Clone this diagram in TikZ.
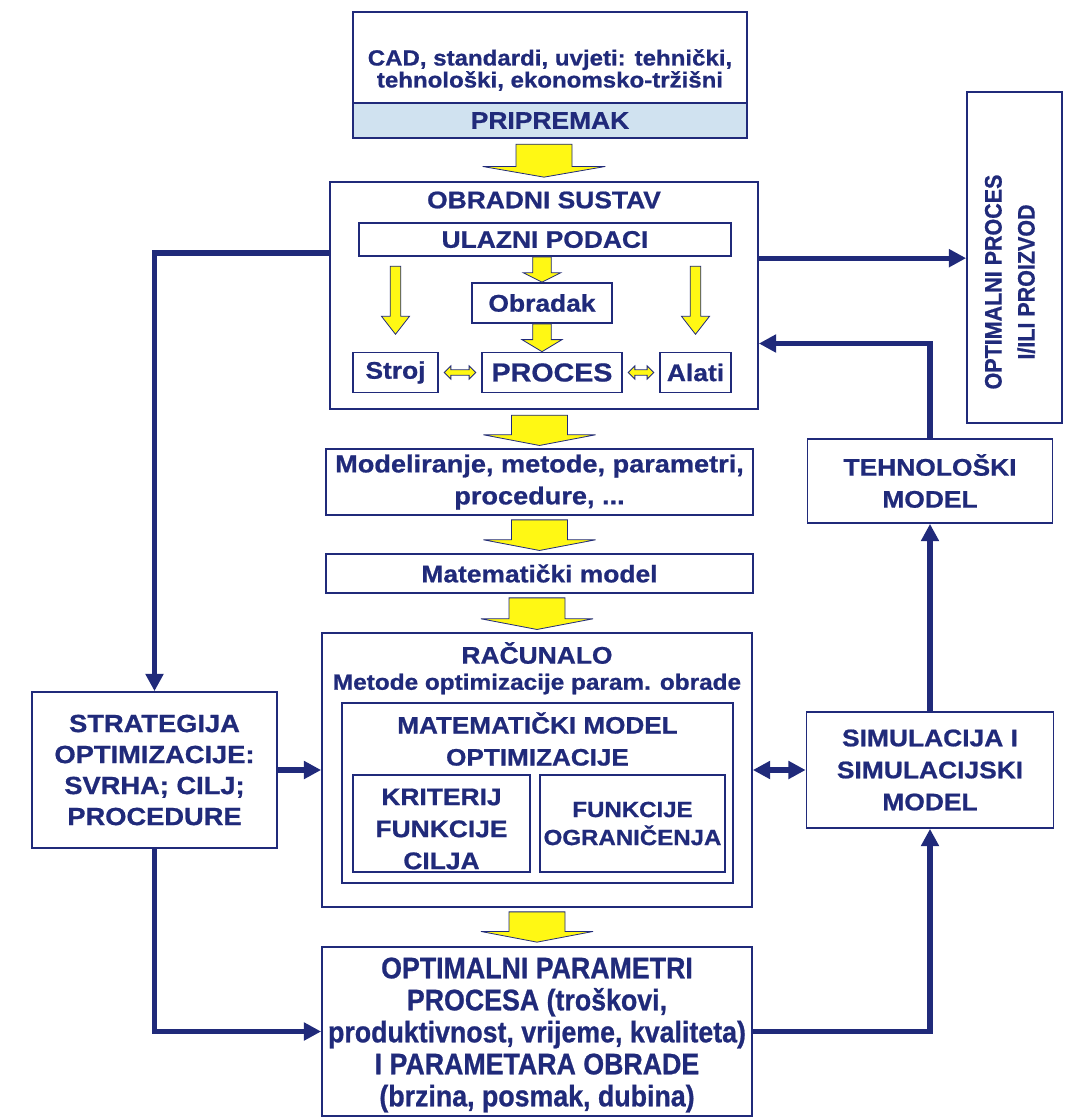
\documentclass[tikz,border=0pt]{standalone}
\usepackage{fontspec}
\usepackage{tikz}
\usetikzlibrary{arrows.meta,calc}
\setmainfont{Liberation Sans}[FakeStretch=1.1, FakeBold=0.8]
\newfontfamily\narrowfont{Liberation Sans}[FakeStretch=0.9, FakeBold=0.8]
\definecolor{navy}{RGB}{32,42,122}
\definecolor{bandblue}{RGB}{208,226,240}
\definecolor{arrowyellow}{RGB}{255,248,20}
\newcommand{\boxfont}[2]{\fontsize{#1}{#2}\selectfont}
\tikzset{
    flow-box/.style = {draw=navy, fill=white, line width=1.3pt, rectangle, inner sep=0pt, align=center, text=navy, font=\bfseries\boxfont{18}{24}},
    flow-title/.style = {inner sep=0pt, align=center, text=navy, font=\bfseries\boxfont{18}{24}},
    yellow-arrow/.style = {fill=arrowyellow, draw=navy, line width=0.6pt},
    link-line/.style = {draw=navy, line width=4pt, -{Triangle[length=13pt,width=13pt]}},
}
\newcommand{\blockarrow}[5]{%
    \filldraw[yellow-arrow] let \p1 = (#1), \p2 = (#2) in
        (\x2-#3, \y1) -- (\x2+#3, \y1) -- (\x2+#3, \y2+#5) -- (\x2+#4, \y2+#5)
        -- (\x2, \y2) -- (\x2-#4, \y2+#5) -- (\x2-#3, \y2+#5) -- cycle;
}
\newcommand{\swaparrow}[2]{%
    \filldraw[yellow-arrow] let \p1 = (#1), \p2 = (#2) in
        (\x1+4pt, \y1) -- (\x1+9pt, \y1+5pt) -- (\x1+9pt, \y1+2pt) -- (\x2-9pt, \y1+2pt) -- (\x2-9pt, \y1+5pt)
        -- (\x2-4pt, \y1) -- (\x2-9pt, \y1-5pt) -- (\x2-9pt, \y1-2pt) -- (\x1+9pt, \y1-2pt) -- (\x1+9pt, \y1-5pt) -- cycle;
}

\begin{document}
\begin{tikzpicture}[x=0.75pt, y=-0.75pt]
\useasboundingbox (0,0) rectangle (1065,1118);
\node[flow-box, minimum width=295.5pt, minimum height=94.5pt] (prep) at (550,75) {};
\node[flow-box, fill=bandblue, minimum width=295.5pt, minimum height=26.25pt] (prep-band) at (550,120.5) {PRIPREMAK};
\node[flow-title, font=\bfseries\boxfont{16.4}{16.5}] (prep-text) at (550,70) {CAD, standardi, uvjeti: tehnički,\\tehnološki, ekonomsko-tržišni};

\node[flow-box, minimum width=321pt, minimum height=170.25pt] (sustav) at (544,295.5) {};
\node[flow-title] (sustav-title) at (544,200) {OBRADNI SUSTAV};
\node[flow-box, minimum width=279pt, minimum height=24.75pt] (ulaz) at (545,239.5) {ULAZNI PODACI};
\node[flow-box, minimum width=105pt, minimum height=30pt] (obradak) at (542,303) {Obradak};
\node[flow-box, minimum width=63.75pt, minimum height=30pt] (stroj) at (395.5,372.5) {Stroj};
\node[flow-box, minimum width=105pt, minimum height=30pt, font=\bfseries\boxfont{19.5}{24}] (proces) at (552,372.5) {PROCES};
\node[flow-box, minimum width=53.25pt, minimum height=30pt] (alati) at (695.5,372.5) {Alati};

\node[flow-box, minimum width=320.25pt, minimum height=49.5pt, font=\bfseries\boxfont{18.5}{24}] (model) at (539.5,482) {Modeliranje, metode, parametri,\\procedure, ...};
\node[flow-box, minimum width=320.25pt, minimum height=29.25pt] (matmod) at (539.5,573.5) {Matematički model};

\node[flow-box, minimum width=322.5pt, minimum height=205.5pt] (racunalo) at (537,770) {};
\node[flow-title] (racunalo-title) at (537,653) {RAČUNALO};
\node[flow-title, font=\bfseries\boxfont{16.6}{22}] (racunalo-sub) at (537,684) {Metode optimizacije param. obrade};
\node[flow-box, minimum width=293.25pt, minimum height=135pt] (optmod) at (537.5,793) {};
\node[flow-title, font=\bfseries\boxfont{17.8}{24}] (optmod-title) at (537.5,739) {MATEMATIČKI MODEL\\OPTIMIZACIJE};
\node[flow-box, minimum width=132.75pt, minimum height=72.75pt] (kriterij) at (441.5,823.5) {};
\node[flow-title] (kriterij-text) at (441.5,829) {KRITERIJ\\FUNKCIJE\\CILJA};
\node[flow-box, minimum width=138.75pt, minimum height=72.75pt, font=\bfseries\boxfont{16.4}{21}] (ogranicenja) at (632.5,823.5) {FUNKCIJE\\OGRANIČENJA};

\node[flow-box, minimum width=322.5pt, minimum height=126.75pt] (result) at (537,1031.5) {};
\node[flow-title, font=\narrowfont\bfseries\boxfont{22.3}{24}] (result-text) at (537,1035) {OPTIMALNI PARAMETRI\\PROCESA (troškovi,\\produktivnost, vrijeme, kvaliteta)\\I PARAMETARA OBRADE\\(brzina, posmak, dubina)};

\node[flow-box, minimum width=183.75pt, minimum height=117pt, font=\bfseries\boxfont{18.6}{23.25}] (strategija) at (154.5,770) {STRATEGIJA\\OPTIMIZACIJE:\\SVRHA; CILJ;\\PROCEDURE};
\node[flow-box, minimum width=71.25pt, minimum height=248.25pt] (optimal) at (1014.5,257.5) {};
\node[flow-title, rotate=90, font=\narrowfont\bfseries\boxfont{17.9}{24.75}] (optimal-text) at (1010,282) {OPTIMALNI PROCES\\I/ILI PROIZVOD};
\node[flow-box, minimum width=183.75pt, minimum height=63pt] (tehno) at (930,481) {TEHNOLOŠKI\\MODEL};
\node[flow-box, minimum width=185.25pt, minimum height=87pt] (simul) at (930,770) {SIMULACIJA I\\SIMULACIJSKI\\MODEL};

\blockarrow{[yshift=-4pt]prep.south}{[yshift=3pt]sustav.north}{21pt}{46pt}{8pt}
\blockarrow{[yshift=-4pt]sustav.south}{[yshift=2pt]model.north}{21pt}{42pt}{8pt}
\blockarrow{[yshift=-3pt]model.south}{[yshift=2pt]matmod.north}{21pt}{42pt}{8pt}
\blockarrow{[yshift=-3pt]matmod.south}{[yshift=2pt]racunalo.north}{21pt}{42pt}{8pt}
\blockarrow{[yshift=-3pt]racunalo.south}{[yshift=3pt]result.north}{21pt}{42pt}{8pt}
\blockarrow{ulaz.south}{obradak.north}{7pt}{14pt}{7pt}
\blockarrow{obradak.south}{obradak.south |- proces.north}{7pt}{15pt}{9pt}
\blockarrow{[yshift=-7pt]ulaz.south}{[yshift=13pt]stroj.north}{4pt}{10.5pt}{13.5pt}
\blockarrow{[yshift=-7pt]ulaz.south}{[yshift=13pt]alati.north}{4pt}{10.5pt}{13.5pt}
\swaparrow{stroj.east}{proces.west}
\swaparrow{proces.east}{alati.west}

\coordinate (sustav-left) at ([yshift=32pt]sustav.west);
\coordinate (sustav-out) at ([yshift=28pt]sustav.east);
\coordinate (sustav-in) at ([yshift=-36pt]sustav.east);
\draw[link-line] (sustav-left) -| (strategija.north);
\draw[link-line] (sustav-out) -- (sustav-out -| optimal.west);
\draw[link-line] (tehno.north) |- (sustav-in);
\draw[link-line] (simul.north) -- (tehno.south);
\draw[link-line] (strategija.east) -- (racunalo.west);
\draw[link-line, {Triangle[length=13pt,width=13pt]}-{Triangle[length=13pt,width=13pt]}] (racunalo.east) -- (simul.west);
\draw[link-line] (strategija.south) |- (result.west);
\draw[link-line] (result.east) -| (simul.south);
\end{tikzpicture}
\end{document}
